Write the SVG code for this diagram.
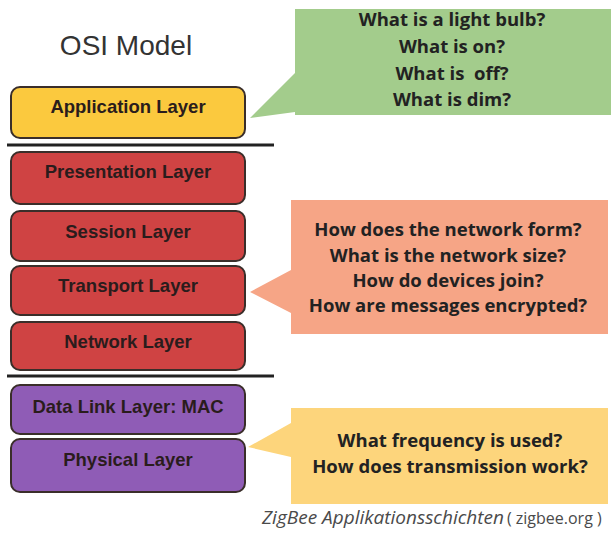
<svg xmlns="http://www.w3.org/2000/svg" width="613" height="534" viewBox="0 0 613 534">
  <style>
    .layer { stroke: #3a2e2a; stroke-width: 2; }
    .app { fill: #FBC93E; }
    .red { fill: #CF4343; }
    .purple { fill: #8F5CB6; }
    .lbl { font-family: "Liberation Sans", Arial, sans-serif; font-weight: bold; font-size: 18.5px; fill: #2a1c1c; text-anchor: middle; }
    .q { font-family: "Open Sans", "Noto Sans", sans-serif; font-weight: bold; font-size: 18.5px; fill: #222; text-anchor: middle; white-space: pre; }
    .sep { stroke: #222; stroke-width: 3; }
  </style>
  <rect width="613" height="534" fill="#ffffff"/>

  <text x="126" y="55" font-family="Liberation Sans, Arial, sans-serif" font-size="28" fill="#333" text-anchor="middle">OSI Model</text>

  <!-- callouts -->
  <g id="callout-app">
    <path d="M295,9 H611 V115 H295 V112 L250,118 L295,73 Z" fill="#A3CC8C"/>
    <text class="q" x="452" y="26">What is a light bulb?</text>
    <text class="q" x="452" y="53">What is on?</text>
    <text class="q" x="452" y="80" xml:space="preserve">What is  off?</text>
    <text class="q" x="452" y="106">What is dim?</text>
  </g>
  <g id="callout-net">
    <path d="M291,200 H608 V334 H291 V313 L250,292 L291,270 Z" fill="#F6A586"/>
    <text class="q" x="448" y="236">How does the network form?</text>
    <text class="q" x="448" y="262">What is the network size?</text>
    <text class="q" x="448" y="287">How do devices join?</text>
    <text class="q" x="448" y="312">How are messages encrypted?</text>
  </g>
  <g id="callout-phy">
    <path d="M291,408 H608 V504 H291 V457 L248,447 L291,423 Z" fill="#FDD57C"/>
    <text class="q" x="450" y="447">What frequency is used?</text>
    <text class="q" x="450" y="473">How does transmission work?</text>
  </g>

  <!-- separators -->
  <g id="separators">
    <line class="sep" x1="7" y1="145" x2="274" y2="145"/>
    <line class="sep" x1="7" y1="376" x2="274" y2="376"/>
  </g>

  <!-- layers -->
  <g id="application">
    <rect class="layer app" x="11" y="87" width="234" height="51" rx="9"/>
    <text class="lbl" x="128" y="113">Application Layer</text>
  </g>
  <g id="presentation">
    <rect class="layer red" x="11" y="152" width="234" height="52" rx="9"/>
    <text class="lbl" x="128" y="178">Presentation Layer</text>
  </g>
  <g id="session">
    <rect class="layer red" x="11" y="211" width="234" height="50" rx="9"/>
    <text class="lbl" x="128" y="238">Session Layer</text>
  </g>
  <g id="transport">
    <rect class="layer red" x="11" y="266" width="234" height="49" rx="9"/>
    <text class="lbl" x="128" y="292">Transport Layer</text>
  </g>
  <g id="network">
    <rect class="layer red" x="11" y="322" width="234" height="48" rx="9"/>
    <text class="lbl" x="128" y="348">Network Layer</text>
  </g>
  <g id="datalink">
    <rect class="layer purple" x="11" y="385" width="234" height="49" rx="9"/>
    <text class="lbl" x="128" y="413">Data Link Layer: MAC</text>
  </g>
  <g id="physical">
    <rect class="layer purple" x="11" y="439" width="234" height="53" rx="9"/>
    <text class="lbl" x="128" y="466">Physical Layer</text>
  </g>

  <!-- caption -->
  <text x="262" y="524" font-family="Open Sans, Noto Sans, sans-serif" fill="#4a4a4a"><tspan font-style="italic" font-size="19">ZigBee Applikationsschichten</tspan><tspan font-size="16" dx="3">( zigbee.org )</tspan></text>
</svg>
